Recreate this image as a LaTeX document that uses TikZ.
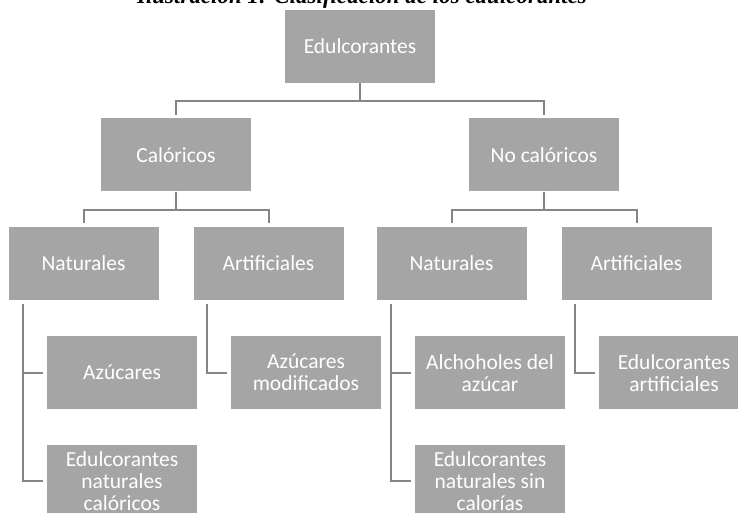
\documentclass[tikz,border=0pt]{standalone}
\usepackage{fontspec}
\setmainfont{Carlito}
\newfontfamily\captionfont{Liberation Serif}
\usetikzlibrary{positioning}
\definecolor{boxgray}{HTML}{A5A5A5}
\definecolor{linegray}{HTML}{858585}
\tikzstyle{block} = [fill=boxgray, text=white, rectangle, minimum width=150pt, minimum height=73pt, inner sep=0pt, align=center, font=\fontsize{21.5}{22}\selectfont]
\tikzstyle{link} = [draw=linegray, line width=2pt]

\begin{document}
\begin{tikzpicture}[node distance=35pt]
	\useasboundingbox (0pt,0pt) rectangle (738pt,-512pt);

	% CAPTION
	\node[anchor=base, font=\captionfont\bfseries\itshape\fontsize{23}{26}\selectfont] (caption) at (362pt,-3pt) {Ilustración 1: Clasificación de los edulcorantes};

	% ROOT
	\node[block] (root) at (360pt,-46.5pt) {Edulcorantes};

	% CALORICOS
	\node[block, below=of root, xshift=-184pt] (cal) {Calóricos};
	\node[block, below=of cal, xshift=-92.5pt] (calnat) {Naturales};
	\node[block, below=of cal, xshift=92.5pt] (calart) {Artificiales};
	\node[block, below=36pt of calnat, xshift=38.5pt] (azucares) {Azúcares};
	\node[block, below=of azucares] (natcal) {Edulcorantes\\naturales\\calóricos};
	\node[block, below=36pt of calart, xshift=37.5pt] (azumod) {Azúcares\\modificados};

	% NO CALORICOS
	\node[block, below=of root, xshift=184pt] (nocal) {No calóricos};
	\node[block, below=of nocal, xshift=-92.5pt] (nocalnat) {Naturales};
	\node[block, below=of nocal, xshift=92.5pt] (nocalart) {Artificiales};
	\node[block, below=36pt of nocalnat, xshift=38.5pt] (alcohol) {Alchoholes del\\azúcar};
	\node[block, below=of alcohol] (natsin) {Edulcorantes\\naturales sin\\calorías};
	\node[block, below=36pt of nocalart, xshift=37.5pt] (edart) {Edulcorantes\\artificiales};

	\draw[link] (root.south) -- ++(0,-18pt) -| ([yshift=3pt]cal.north);
	\draw[link] (root.south) -- ++(0,-18pt) -| ([yshift=3pt]nocal.north);

	\draw[link] (cal.south) -- ++(0,-18pt) -| ([yshift=3.5pt]calnat.north);
	\draw[link] (cal.south) -- ++(0,-18pt) -| ([yshift=3.5pt]calart.north);
	\draw[link] (nocal.south) -- ++(0,-18pt) -| ([yshift=3.5pt]nocalnat.north);
	\draw[link] (nocal.south) -- ++(0,-18pt) -| ([yshift=3.5pt]nocalart.north);

	\draw[link] ([xshift=15pt,yshift=-4pt]calnat.south west) |- ([xshift=-4pt]azucares.west);
	\draw[link] ([xshift=15pt,yshift=-4pt]calnat.south west) |- ([xshift=-4pt]natcal.west);
	\draw[link] ([xshift=14pt,yshift=-4pt]calart.south west) |- ([xshift=-4pt]azumod.west);
	\draw[link] ([xshift=15pt,yshift=-4pt]nocalnat.south west) |- ([xshift=-4pt]alcohol.west);
	\draw[link] ([xshift=15pt,yshift=-4pt]nocalnat.south west) |- ([xshift=-4pt]natsin.west);
	\draw[link] ([xshift=14pt,yshift=-4pt]nocalart.south west) |- ([xshift=-4pt]edart.west);
\end{tikzpicture}
\end{document}
